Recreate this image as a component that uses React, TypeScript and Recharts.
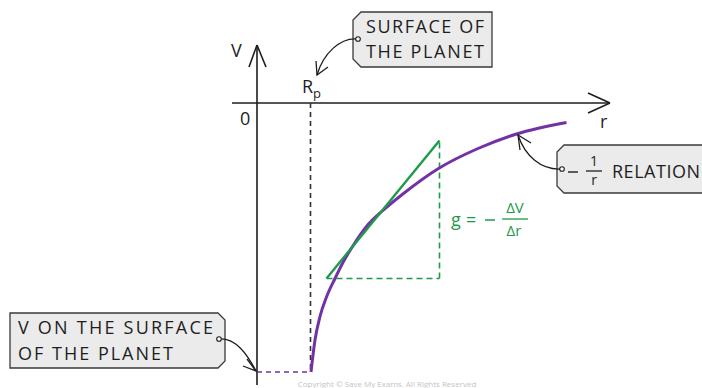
import {
  ComposedChart,
  Line,
  XAxis,
  YAxis,
  ReferenceLine,
} from "recharts";

// r in units of the sketch (origin = 0), V below the r axis is negative
const curveR = [1.08, 1.16, 1.26, 1.39, 1.56, 1.73, 1.93, 2.19, 2.53, 2.93, 3.63, 4.42, 5.19, 6.19];
const curveV = [-5.38, -4.74, -4.27, -3.88, -3.51, -3.17, -2.84, -2.47, -2.14, -1.81, -1.31, -0.91, -0.62, -0.39];

const tangentR = [1.39, 3.65];
const tangentV = [-3.51, -0.75];

const planetRadius = 1.07;
const surfaceV = -5.38;

const rDomain = [-5.14, 8.9];
const vDomain = [-5.7, 2.06];

const W = 702;
const H = 388;

const PURPLE = "#7232a6";
const GREEN = "#1f9a4a";
const INK = "#1e1e1e";
const FONT = "'Open Sans', 'DejaVu Sans', sans-serif";

const curve = curveR.map((r, i) => ({ r, V: curveV[i] }));
const tangent = tangentR.map((r, i) => ({ r, V: tangentV[i] }));
const triBase = [
  { r: tangentR[0], V: tangentV[0] },
  { r: tangentR[1], V: tangentV[0] },
];
const triSide = [
  { r: tangentR[1], V: tangentV[0] },
  { r: tangentR[1], V: tangentV[1] },
];

function Callouts() {
  const box = { fill: "#ebebeb", stroke: "#3a3a3a", strokeWidth: 1.3 };
  const txt = { fontFamily: FONT, fontSize: 18, fill: INK };
  const arr = { fill: "none", stroke: INK, strokeWidth: 1.3 };
  return (
    <svg
      width={W}
      height={H}
      style={{ position: "absolute", left: 0, top: 0, pointerEvents: "none" }}
    >
      {/* axis labels */}
      <text x={231} y={57} {...txt}>V</text>
      <text x={240} y={125} {...txt}>0</text>
      <text x={302} y={93} {...txt}>
        R<tspan fontSize={13} dy={5}>p</tspan>
      </text>
      <text x={600} y={128} {...txt}>r</text>

      {/* surface of the planet */}
      <path d="M361,12 L492,12 L492,67 L361,67 L353,59 L353,20 Z" {...box} />
      <text x={366} y={33} textLength={118} lengthAdjust="spacing" {...txt}>SURFACE OF</text>
      <text x={366} y={58} textLength={118} lengthAdjust="spacing" {...txt}>THE PLANET</text>
      <path d="M358,39 C340,37 323,54 317,75" {...arr} />
      <path d="M316,61 L317,75 L328,67" {...arr} />
      <circle cx={358} cy={39} r={2.3} fill="#fff" stroke={INK} strokeWidth={1.1} />

      {/* -1/r relation */}
      <path d="M564,145 L720,145 L720,193 L564,193 L557,186 L557,152 Z" {...box} />
      <line x1={568} y1={172} x2={578} y2={172} stroke={INK} strokeWidth={1.4} />
      <text x={594} y={166} textAnchor="middle" {...txt} fontSize={14}>1</text>
      <line x1={586} y1={171} x2={602} y2={171} stroke={INK} strokeWidth={1.3} />
      <text x={594} y={185} textAnchor="middle" {...txt} fontSize={14}>r</text>
      <text x={612} y={178} textLength={88} lengthAdjust="spacing" {...txt}>RELATION</text>
      <path d="M561,169 C541,170 525,156 518,135" {...arr} />
      <path d="M520,150 L518,135 L531,143" {...arr} />
      <circle cx={562} cy={169} r={2.3} fill="#fff" stroke={INK} strokeWidth={1.1} />

      {/* V on the surface */}
      <path d="M10,313 L218,313 L225,320 L225,361 L218,368 L10,368 Z" {...box} />
      <text x={18} y={334} textLength={195} lengthAdjust="spacing" {...txt}>V ON THE SURFACE</text>
      <text x={18} y={360} textLength={155} lengthAdjust="spacing" {...txt}>OF THE PLANET</text>
      <path d="M219,339 C236,338 247,354 256,371" {...arr} />
      <path d="M243,366 L256,371 L247,359" {...arr} />
      <circle cx={219} cy={339} r={2.3} fill="#fff" stroke={INK} strokeWidth={1.1} />

      {/* gradient label */}
      <g fontFamily={FONT} fill={GREEN} fontSize={18}>
        <text x={451} y={226}>g</text>
        <text x={466} y={226}>=</text>
        <line x1={485} y1={220} x2={495} y2={220} stroke={GREEN} strokeWidth={1.5} />
        <text x={515} y={213} fontSize={15} textAnchor="middle">ΔV</text>
        <line x1={502} y1={219} x2={528} y2={219} stroke={GREEN} strokeWidth={1.3} />
        <text x={514} y={236} fontSize={15} textAnchor="middle">Δr</text>
      </g>

      <text
        x={387}
        y={387}
        textAnchor="middle"
        fontFamily={FONT}
        fontSize={8}
        fill="#c4c4c4"
      >
        Copyright © Save My Exams. All Rights Reserved
      </text>
    </svg>
  );
}

export default function App() {
  const axis = { stroke: INK, strokeWidth: 1.6 };
  return (
    <div
      style={{
        position: "absolute",
        left: 0,
        top: 0,
        width: W,
        height: H,
        background: "#fff",
      }}
    >
      <ComposedChart
        width={W}
        height={H}
        margin={{ top: 0, right: 0, bottom: 0, left: 0 }}
      >
        <XAxis type="number" dataKey="r" domain={rDomain} hide allowDataOverflow />
        <YAxis type="number" dataKey="V" domain={vDomain} hide allowDataOverflow />

        {/* axes with arrow heads */}
        <ReferenceLine segment={[{ x: -0.5, y: 0 }, { x: 7.06, y: 0 }]} {...axis} />
        <ReferenceLine segment={[{ x: 6.62, y: 0.2 }, { x: 7.06, y: 0 }]} {...axis} />
        <ReferenceLine segment={[{ x: 6.62, y: -0.2 }, { x: 7.06, y: 0 }]} {...axis} />
        <ReferenceLine segment={[{ x: 0, y: -5.64 }, { x: 0, y: 1.16 }]} {...axis} />
        <ReferenceLine segment={[{ x: -0.16, y: 0.72 }, { x: 0, y: 1.16 }]} {...axis} />
        <ReferenceLine segment={[{ x: 0.18, y: 0.72 }, { x: 0, y: 1.16 }]} {...axis} />

        {/* planet radius and surface potential */}
        <ReferenceLine
          segment={[{ x: planetRadius, y: 0 }, { x: planetRadius, y: surfaceV }]}
          stroke="#333"
          strokeWidth={1.6}
          strokeDasharray="5 4"
        />
        <ReferenceLine
          segment={[{ x: 0, y: surfaceV }, { x: planetRadius, y: surfaceV }]}
          stroke={PURPLE}
          strokeWidth={1.6}
          strokeDasharray="5 4"
        />

        <Line
          data={triBase}
          dataKey="V"
          stroke={GREEN}
          strokeWidth={1.6}
          strokeDasharray="6 4"
          dot={false}
          activeDot={false}
          isAnimationActive={false}
        />
        <Line
          data={triSide}
          dataKey="V"
          stroke={GREEN}
          strokeWidth={1.6}
          strokeDasharray="6 4"
          dot={false}
          activeDot={false}
          isAnimationActive={false}
        />
        <Line
          data={curve}
          dataKey="V"
          type="monotone"
          stroke={PURPLE}
          strokeWidth={3}
          dot={false}
          activeDot={false}
          isAnimationActive={false}
        />
        <Line
          data={tangent}
          dataKey="V"
          stroke={GREEN}
          strokeWidth={2.4}
          dot={false}
          activeDot={false}
          isAnimationActive={false}
        />
      </ComposedChart>
      <Callouts />
    </div>
  );
}
